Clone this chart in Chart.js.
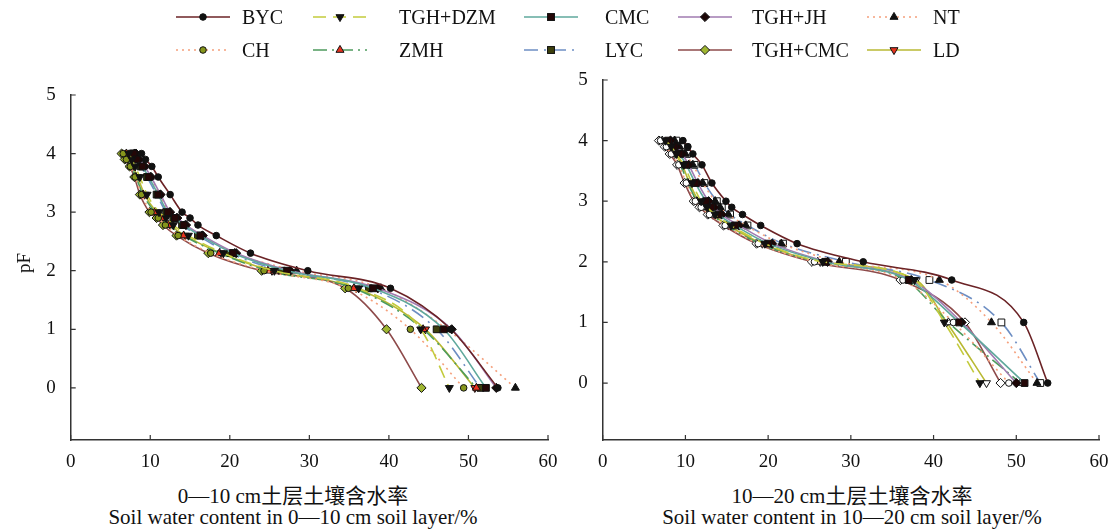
<!DOCTYPE html>
<html>
<head>
<meta charset="utf-8">
<script src="https://cdn.jsdelivr.net/npm/chart.js@4.4.0/dist/chart.umd.min.js"></script>
<style>
  body { margin: 0; background: #fff; }
  #wrap { position: relative; width: 1110px; height: 530px; overflow: hidden;
          font-family: "Liberation Serif", "Noto Sans CJK SC", serif; color: #111; }
  canvas { position: absolute; top: 0; }
  #c1 { left: 0; }
  #c2 { left: 560px; }
  .leg { position: absolute; font-size: 20px; line-height: 20px; white-space: nowrap; }
  .sym { position: absolute; }
  .xt { position: absolute; white-space: nowrap; font-size: 21px; line-height: 22px; transform: translateX(-50%); }
  #ytitle { position: absolute; left: 24px; top: 263px; font-size: 19px; transform: translate(-50%, -50%) rotate(-90deg); }
</style>
</head>
<body>
<div id="wrap">
  <canvas id="c1" width="560" height="480"></canvas>
  <canvas id="c2" width="550" height="480"></canvas>
  <div id="legend"></div>
  <div id="ytitle">pF</div>
  <div class="xt" style="left:293px;top:485px">0—10 cm土层土壤含水率</div>
  <div class="xt" style="left:293px;top:506px">Soil water content in 0—10 cm soil layer/%</div>
  <div class="xt" style="left:852px;top:485px">10—20 cm土层土壤含水率</div>
  <div class="xt" style="left:852px;top:506px">Soil water content in 10—20 cm soil layer/%</div>
</div>
<script>
// pF levels (y) shared by every curve
const pfLevels = [4.0, 3.9, 3.78, 3.6, 3.3, 3.0, 2.9, 2.78, 2.6, 2.3, 2.0, 1.7, 1.0, 0];
const xTicks = [0, 10, 20, 30, 40, 50, 60];
const yTicks = [0, 1, 2, 3, 4, 5];
const seriesNames = ['BYC', 'TGH+DZM', 'CMC', 'TGH+JH', 'NT', 'CH', 'ZMH', 'LYC', 'TGH+CMC', 'LD'];

// 0-10 cm layer, soil water content (%) at each pF level
const byc1    = [8.9, 9.4, 10.2, 11.0, 12.5, 14.0, 15.0, 16.0, 18.3, 22.6, 29.8, 40.2, 47.8, 53.7];
const tghdzm1 = [7.3, 7.7, 8.1, 8.7, 9.6, 11.1, 12.0, 12.9, 14.8, 19.2, 25.6, 36.2, 44.0, 47.6];
const cmc1    = [7.9, 8.3, 9.0, 9.8, 11.0, 12.2, 13.1, 14.2, 16.3, 20.4, 27.2, 38.0, 46.9, 52.2];
const tghjh1  = [8.2, 8.6, 9.3, 10.1, 11.3, 12.5, 13.4, 14.5, 16.6, 20.8, 27.6, 38.6, 47.9, 53.5];
const nt1     = [8.0, 8.5, 9.2, 10.0, 11.2, 12.4, 13.3, 14.4, 16.5, 20.6, 28.4, 39.0, 47.3, 55.9];
const ch1     = [6.6, 7.0, 7.5, 8.1, 8.9, 10.1, 11.0, 11.9, 13.5, 17.6, 24.3, 34.9, 42.7, 49.4];
const zmh1    = [7.0, 7.3, 7.6, 8.2, 9.1, 10.6, 11.4, 12.3, 14.2, 18.7, 24.8, 35.6, 44.3, 51.0];
const lyc1    = [7.7, 8.1, 8.8, 9.6, 10.8, 12.0, 12.9, 14.0, 16.0, 20.0, 26.5, 37.5, 46.0, 51.5];
const tghcmc1 = [6.4, 6.8, 7.4, 8.0, 8.7, 9.9, 10.8, 11.6, 13.3, 17.3, 24.0, 34.5, 39.7, 44.1];
const ld1     = [7.1, 7.4, 7.8, 8.4, 9.3, 10.8, 11.6, 12.5, 14.4, 18.9, 25.3, 35.9, 44.6, 50.8];

// 10-20 cm layer
const byc2    = [9.7, 10.3, 10.9, 12.0, 13.2, 14.9, 15.6, 16.9, 19.1, 23.5, 31.5, 42.2, 50.9, 53.8];
const tghdzm2 = [7.6, 8.3, 8.9, 9.8, 10.8, 11.9, 12.6, 13.6, 15.5, 19.6, 26.6, 37.7, 41.3, 45.6];
const cmc2    = [7.9, 8.6, 9.3, 10.1, 11.2, 12.5, 13.1, 14.0, 16.0, 20.0, 26.9, 37.0, 43.1, 51.0];
const tghjh2  = [8.2, 8.9, 9.6, 10.4, 11.5, 12.8, 13.5, 14.4, 16.5, 20.5, 27.2, 37.3, 43.4, 50.0];
const nt2     = [8.7, 9.3, 10.0, 10.9, 12.1, 13.6, 14.2, 15.2, 17.3, 21.6, 28.6, 40.7, 47.0, 52.5];
const ch2     = [7.0, 7.7, 8.3, 9.2, 10.1, 11.2, 11.9, 12.9, 14.8, 18.8, 25.6, 36.3, 42.4, 49.1];
const zmh2    = [7.2, 7.9, 8.5, 9.4, 10.3, 11.4, 12.1, 13.1, 15.0, 19.0, 26.0, 36.6, 41.8, 50.5];
const lyc2    = [8.9, 9.5, 10.2, 11.1, 12.3, 13.8, 14.4, 15.4, 17.5, 21.8, 29.4, 39.5, 48.2, 52.9];
const tghcmc2 = [6.8, 7.5, 8.1, 9.0, 9.9, 11.0, 11.7, 12.7, 14.6, 18.6, 25.3, 36.0, 43.8, 48.1];
const ld2     = [7.4, 8.1, 8.7, 9.6, 10.5, 11.6, 12.3, 13.3, 15.2, 19.3, 26.3, 37.9, 41.6, 46.4];

const layer1 = [byc1, tghdzm1, cmc1, tghjh1, nt1, ch1, zmh1, lyc1, tghcmc1, ld1];
const layer2 = [byc2, tghdzm2, cmc2, tghjh2, nt2, ch2, zmh2, lyc2, tghcmc2, ld2];

const styles = [
  { line: '#6b2326', dash: [], shape: 'circle', rot: 0, fill: '#111', r: 3.3 },
  { line: '#c3cb3c', dash: [13, 7], shape: 'triangle', rot: 180, fill: '#111', r: 4.6 },
  { line: '#5fa89c', dash: [], shape: 'rect', rot: 0, fill: '#240707', r: 4.8 },
  { line: '#a17bb1', dash: [], shape: 'rectRot', rot: 0, fill: '#1c0606', r: 4.6 },
  { line: '#f5a07c', dash: [2, 4], shape: 'triangle', rot: 0, fill: '#111', r: 4.6 },
  { line: '#f5a07c', dash: [2, 4], shape: 'circle', rot: 0, fill: '#86961c', r: 3.3 },
  { line: '#4e9b5d', dash: [14, 5, 2, 5], shape: 'triangle', rot: 0, fill: '#e8321e', r: 4.6 },
  { line: '#6d8ec3', dash: [14, 6, 2, 6], shape: 'rect', rot: 0, fill: '#3c3f0c', r: 4.8 },
  { line: '#8e4b4b', dash: [], shape: 'rectRot', rot: 0, fill: '#9fb631', r: 4.6 },
  { line: '#b9b933', dash: [], shape: 'triangle', rot: 180, fill: '#e8321e', r: 4.6 }
];
// in the 10-20 cm panel the coloured markers are drawn hollow
const hollowIn2 = ['CH', 'ZMH', 'LYC', 'TGH+CMC', 'LD'];

function makeDatasets(layer, hollow) {
  return layer.map((vals, i) => {
    const s = styles[i];
    const open = hollow && hollowIn2.includes(seriesNames[i]);
    return {
      label: seriesNames[i],
      data: vals.map((v, k) => ({ x: v, y: pfLevels[k] })),
      showLine: true,
      borderColor: s.line,
      borderWidth: 1.6,
      borderDash: s.dash,
      cubicInterpolationMode: 'monotone',
      pointStyle: s.shape,
      pointRotation: s.rot,
      pointRadius: s.r,
      pointBackgroundColor: open ? '#fff' : s.fill,
      pointBorderColor: '#111',
      pointBorderWidth: 1
    };
  });
}

const innerTicks = {
  id: 'innerTicks',
  afterDraw(chart) {
    const { ctx, chartArea, scales: { x, y } } = chart;
    ctx.save();
    ctx.strokeStyle = '#333';
    ctx.lineWidth = 1.2;
    ctx.beginPath();
    x.ticks.forEach(t => {
      const px = x.getPixelForValue(t.value);
      ctx.moveTo(px, chartArea.bottom);
      ctx.lineTo(px, chartArea.bottom - 5);
    });
    y.ticks.forEach(t => {
      const py = y.getPixelForValue(t.value);
      ctx.moveTo(chartArea.left, py);
      ctx.lineTo(chartArea.left + 5, py);
    });
    ctx.stroke();
    ctx.restore();
  }
};

function makeOptions(yMin, yWidth, padTop, padRight) {
  const tickFont = { family: 'Liberation Serif', size: 19 };
  return {
    responsive: false,
    animation: false,
    layout: { padding: { left: 0, top: padTop, right: padRight, bottom: 0 } },
    plugins: { legend: { display: false }, tooltip: { enabled: false } },
    scales: {
      x: {
        type: 'linear', min: 0, max: 60,
        afterBuildTicks: s => { s.ticks = xTicks.map(v => ({ value: v })); },
        afterFit: s => { s.height = 40; s.paddingLeft = 0; s.paddingRight = 0; },
        grid: { display: false, drawTicks: false },
        border: { display: true, color: '#333', width: 1.5 },
        ticks: { font: tickFont, color: '#111', padding: 11, maxRotation: 0 }
      },
      y: {
        type: 'linear', min: yMin, max: 5,
        afterBuildTicks: s => { s.ticks = yTicks.map(v => ({ value: v })); },
        afterFit: s => { s.width = yWidth; s.paddingTop = 0; s.paddingBottom = 0; },
        grid: { display: false, drawTicks: false },
        border: { display: true, color: '#333', width: 1.5 },
        ticks: { font: tickFont, color: '#111', padding: 15 }
      }
    }
  };
}

new Chart(document.getElementById('c1'), {
  type: 'scatter',
  data: { datasets: makeDatasets(layer1, false) },
  options: makeOptions(-0.89, 70.7, 95, 12),
  plugins: [innerTicks]
});

new Chart(document.getElementById('c2'), {
  type: 'scatter',
  data: { datasets: makeDatasets(layer2, true) },
  options: makeOptions(-0.94, 42.7, 80, 11),
  plugins: [innerTicks]
});

// legend: 5 columns x 2 rows
const legCenters = [203, 340, 551, 705, 894];
const legTextX = [242, 399, 605, 752, 933];
const legRowY = [17, 50];

function markerSvg(s, fill) {
  const r = s.r;
  if (s.shape === 'circle') return `<circle cx="27" cy="8" r="${r}" fill="${fill}" stroke="#111"/>`;
  if (s.shape === 'rect') { const h = r * 0.72; return `<rect x="${27 - h}" y="${8 - h}" width="${2 * h}" height="${2 * h}" fill="${fill}" stroke="#111"/>`; }
  if (s.shape === 'rectRot') return `<polygon points="27,${8 - r} ${27 + r},8 27,${8 + r} ${27 - r},8" fill="${fill}" stroke="#111"/>`;
  const d = s.rot ? -1 : 1;
  return `<polygon points="27,${8 - d * r} ${27 + r * 0.87},${8 + d * r * 0.5} ${27 - r * 0.87},${8 + d * r * 0.5}" fill="${fill}" stroke="#111"/>`;
}

const legend = document.getElementById('legend');
seriesNames.forEach((name, i) => {
  const s = styles[i];
  const col = i % 5, row = i < 5 ? 0 : 1;
  const sym = document.createElement('div');
  sym.className = 'sym';
  sym.style.left = (legCenters[col] - 27) + 'px';
  sym.style.top = (legRowY[row] - 8) + 'px';
  sym.innerHTML = `<svg width="54" height="16"><line x1="0" y1="8" x2="54" y2="8" stroke="${s.line}" stroke-width="1.6" stroke-dasharray="${s.dash.join(',')}"/>${markerSvg(s, s.fill)}</svg>`;
  legend.appendChild(sym);
  const txt = document.createElement('div');
  txt.className = 'leg';
  txt.style.left = legTextX[col] + 'px';
  txt.style.top = (legRowY[row] - 10) + 'px';
  txt.textContent = name;
  legend.appendChild(txt);
});
</script>
</body>
</html>
